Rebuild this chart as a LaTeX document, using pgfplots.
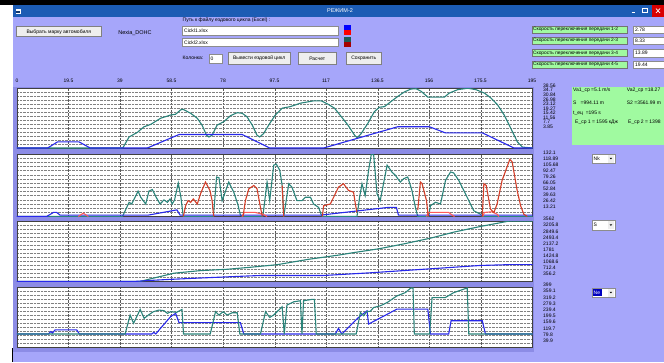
\documentclass[border=0pt]{standalone}
\usepackage{fontspec}
\setmainfont{Liberation Sans}
\usepackage{pgfplots}
\pgfplotsset{compat=1.18}

\definecolor{winbg}{RGB}{166,166,250}
\definecolor{gutter}{RGB}{140,140,230}
\definecolor{titleblue}{RGB}{28,92,180}
\definecolor{cteal}{RGB}{42,132,122}
\definecolor{cblue}{RGB}{40,40,235}
\definecolor{cred}{RGB}{212,62,40}
\definecolor{clred}{RGB}{255,90,90}
\definecolor{lgreen}{RGB}{160,250,160}
\definecolor{btnc}{RGB}{238,238,238}

\newcommand\fs{\fontsize{5}{5.5}\selectfont}
\newcommand\fl{\fontsize{5.5}{6.2}\selectfont}

\pgfplotsset{
  panel/.style={
    scale only axis, width=515.5pt, anchor=north west,
    xmin=0, xmax=195, ymin=0,
    xtick={0,19.5,39,58.5,78,97.5,117,136.5,156,175.5,195},
    xticklabels={}, yticklabels={},
    major tick length=0pt,
    xmajorgrids, ymajorgrids,
    x grid style={black!65, densely dotted, line width=0.5pt},
    y grid style={black!50, densely dotted, line width=0.45pt},
    axis line style={black!75, line width=0.7pt},
    axis background/.style={fill=white},
    every axis plot/.append style={line width=1.1pt, mark=none},
  }
}

\tikzset{
  btn/.style={draw=black!50, fill=btnc, line width=0.5pt},
  tbox/.style={draw=black!45, fill=white, line width=0.5pt},
  glab/.style={draw=black!55, fill=lgreen, line width=0.4pt},
}

\begin{document}
\begin{tikzpicture}[x=1pt,y=-1pt]
\useasboundingbox (0,0) rectangle (664,362);
% window background and frame
\fill[winbg] (0,0) rectangle (664,362);
\fill[white] (0,0) rectangle (13,362);
\fill[black] (0,0) rectangle (664,4.5);
\fill[titleblue] (13,4.5) rectangle (664,17);
\draw[black,line width=0.8pt] (12.6,348) -- (12.6,362);
\fill[white] (15.5,9) rectangle (20.5,14);
\fill[titleblue!60!black] (16.3,10.6) rectangle (19.7,13.3);
\node[white,font=\fl] at (340,11) {РЕЖИМ-2};
\draw[white,line width=0.8pt] (631.5,12.5) -- (635,12.5);
\draw[white,line width=0.6pt] (642.5,8.5) rectangle (647,12.5);
\fill[red!85!black] (652,4.5) rectangle (664,17);
\draw[white,line width=0.7pt] (656,8.5) -- (660,13) (656,13) -- (660,8.5);

% top controls
\draw[btn] (16,26.7) rectangle (101.7,36.7);
\node[font=\fs] at (58.8,31.7) {Выбрать марку автомобиля};
\node[font=\fl] at (135,33) {Nexia\_DOHC};
\node[font=\fs,anchor=west,inner sep=0pt] at (182.5,20) {Путь к файлу ездового цикла (Excel) :};
\draw[tbox] (182.5,26.7) rectangle (338,35);
\node[font=\fs,anchor=west,inner sep=0pt] at (184,30.8) {Cickl1.xlsx};
\draw[tbox] (182.5,38.3) rectangle (338,46.7);
\node[font=\fs,anchor=west,inner sep=0pt] at (184,42.5) {Cickl2.xlsx};
\fill[blue] (343.7,25) rectangle (351.3,30);
\fill[red] (343.7,30) rectangle (351.3,35);
\fill[cteal!70!black] (343.7,36.7) rectangle (351.3,41.7);
\fill[red!65!black] (343.7,41.7) rectangle (351.3,46.7);
\node[font=\fs,anchor=west,inner sep=0pt] at (182.5,58.3) {Колонка:};
\draw[tbox] (209,54) rectangle (222,63.3);
\node[font=\fs,anchor=west,inner sep=0pt] at (210.5,58.6) {0};
\draw[btn] (228.3,52.7) rectangle (290,64);
\node[font=\fs] at (259.2,58.4) {Вывести ездовой цикл};
\draw[btn] (298.3,52.7) rectangle (336,64);
\node[font=\fs] at (317.2,58.4) {Расчет};
\draw[btn] (346,52.7) rectangle (381.3,64);
\node[font=\fs] at (363.7,58.4) {Сохранить};
\foreach \yy/\lab/\val in {26/1-2/2.78, 37/2-3/8.33, 49.3/3-4/13.89, 61/4-5/19.44}{
  \draw[glab] (532,\yy) rectangle (627,\yy+7.3);
  \node[font=\fontsize{4.8}{5.2}\selectfont,anchor=west,inner sep=0pt] at (533,\yy+3.7) {Скорость переключения передачи \lab};
  \draw[tbox] (633.7,\yy) rectangle (666,\yy+7.5);
  \node[font=\fs,anchor=west,inner sep=0pt] at (635,\yy+3.8) {\val};
}

% chart gutter
\fill[gutter] (13.3,86.5) rectangle (533.5,351.5);

% time labels above the first chart
\foreach \t/\lab in {0/0,19.5/19.5,39/39,58.5/58.5,78/78,97.5/97.5,117/117,136.5/136.5,156/156,175.5/175.5,195/195}{
  \node[font=\fs,inner sep=0pt] at ({17+2.641*\t},81) {\lab};
}

% ---------- speed ----------
\begin{axis}[panel, at={(17pt,-88pt)}, height=60pt, ymax=38.56, ytick distance=2.5707]
\addplot[cteal] coordinates {
(0,0)(40,0)(42.4,7.1)(45.5,10)(48,13.6)(50.6,15.2)(54.3,19.1)(58.1,21.2)(60,21.7)
(61.9,24.5)(62.8,24.9)(65.7,22.3)(68.2,19.1)(70,14.7)(71.7,8.2)(72.6,7.1)(73.8,8.2)
(75.7,14.7)(78.2,16.9)(80.8,20.8)(83.3,22.7)(85.2,22.3)(87,20.1)(89,14.7)(90.8,8.2)
(91.8,7.1)(93.3,9.3)(95.2,14.7)(97.7,21.2)(100.3,25.6)(103.4,26.6)(107.2,28.8)
(112.2,30.3)(115.1,30.3)(117.6,28.2)(120.1,25.6)(122.7,20.1)(125.2,14.7)(127.7,8.2)
(128.7,6.5)(130.2,9.3)(132.7,15.8)(135.2,23.4)(137.1,26.2)(139,26.6)(141.5,29.9)
(144,33.1)(146.5,36)(149,37.9)(151,38.1)(152.9,36.4)(155.4,32.7)(161.7,32.7)
(163.5,35.3)(166.7,37.5)(170.5,38.4)(173.6,37.5)(176.8,35.3)(179.3,32.1)(181.8,27.7)
(184.3,21.2)(186.8,12.6)(189.3,3.9)(191.2,0.6)(195,0)};
\addplot[cblue] coordinates {
(0,0)(11.6,0)(15.3,3.9)(23.5,3.9)(27.7,0)(49.3,0)(61.3,8.67)(85.2,8.67)(95.6,0)
(116,0)(144,13.65)(156,13.65)(162,9.75)(176,9.75)(188,0)(195,0)};
\end{axis}

% ---------- traction power ----------
\begin{axis}[panel, at={(17pt,-154pt)}, height=62.5pt, ymax=132.1, ytick distance=8.8067]
\addplot[cteal] coordinates {
(0,0)(39.9,0)(42.4,30)(43.4,26.4)(45.8,53.6)(46.8,40.7)(48.7,26.4)(49.9,53.6)
(51.2,57.1)(52.5,42.1)(54.1,26.4)(55.6,35)(56.9,30)(57.9,37.1)(58.7,26.4)(59.6,35)
(61,70.7)(62,40.7)(62.9,0)(74.3,0)(75.5,83.5)(76.4,82)(77.6,33.6)(80.1,72.8)
(82,51.4)(83.5,26.4)(84.5,3)(85.5,0)(93,0)(94.6,72.8)(95.6,33.6)(97.1,108.5)
(98.1,110.7)(99.4,97.8)(100.3,65.7)(100.9,0)(102.8,69.3)(104,62)(105.9,33.6)
(107.8,33.6)(109.1,40.7)(111,40.7)(112.2,26.4)(114.1,19.3)(115,5)(115.5,0)
(128.6,0)(129.6,40.7)(130.5,69.3)(131.7,44.3)(133,97.8)(134,131)(134.9,131)
(136.2,47.8)(137.4,33.6)(140,108.5)(141.8,94.2)(143.1,87.1)(145,72.8)(146.3,80)
(147.8,83.5)(149.4,55)(150.7,19.3)(151.6,0)(155.7,0)(156.4,22.8)(158.3,30)
(160.2,26.4)(162.1,76.4)(164,94.2)(165.2,92)(167.1,76.4)(169,55)(170.9,33.6)
(172.8,12.1)(175.3,5)(176,0)(195,0)};
\addplot[cblue] coordinates {
(0,0)(11.2,0)(13.8,8.6)(15,8.6)(16.3,3)(49.7,3)(60.5,14)(61.7,3)(115,3)
(140.5,19.3)(143.5,19.3)(144.3,3)(195,3)};
\addplot[clred] coordinates {(23.2,0)(25.1,7.1)(27,0)};
\addplot[clred] coordinates {(85.1,0)(86,8.6)(90,8.6)(93,5)(94.6,0)};
\addplot[clred] coordinates {(154.9,0)(155.6,8.6)(163.3,8.6)(164.6,3)(165.5,0)};
\addplot[clred] coordinates {(176.2,0)(176.8,8.6)(179.7,10)(181.6,5)(182.3,0)};
\addplot[cred] coordinates {(62.9,0)(63.8,22.8)(64.7,33.6)(65.7,30)(66.7,37.1)
(68.2,26.4)(69.4,47.8)(71.3,72.8)(73,55)(73.8,33.6)(74.3,5)(74.5,0)};
\addplot[cred] coordinates {(85.5,0)(86.4,33.6)(87.7,58.5)(89.6,65.7)(90.8,58.5)
(92.1,19.3)(92.8,0)};
\addplot[cred] coordinates {(100.3,65.7)(100.9,0)};
\addplot[cred] coordinates {(115.5,0)(116,22.8)(118.5,26.4)(120.4,47.8)(121.6,62)
(123.5,69.3)(125.4,55)(127.3,51.4)(128,26.4)(128.6,8.6)};
\addplot[cred] coordinates {(151.6,13.6)(152.6,72.8)(153.2,70)(154.9,33.6)
(155.4,8.6)(155.7,0)};
\addplot[cred] coordinates {(176,0)(176.6,69.3)(177.5,65.7)(179.1,15.7)(180.4,8.6)
(181.6,26.4)(183.5,76.4)(185.4,105)(186.4,120.6)(187.3,115.7)(189.2,55)(190.5,22.8)
(191.7,5)(193,0)};
\end{axis}

% ---------- distance ----------
\begin{axis}[panel, at={(17pt,-221pt)}, height=60.5pt, ymax=3562, ytick distance=237.47]
\addplot[cteal] coordinates {
(0,0)(46.5,0)(50.5,157)(59.4,490)(69.3,640)(79.5,720)(88.4,840)(98.4,990)(110,1300)
(122.3,1570)(127.3,1700)(137,1929)(146.6,2224)(156.6,2558)(165.4,2913)(175.5,3247)
(185.6,3542)(187.4,3562)(195,3562)};
\addplot[cblue] coordinates {
(0,0)(44,0)(50,60)(56.9,118)(70,210)(85.8,315)(92.1,354)(116,354)(133.6,512)
(156.4,748)(175.3,945)(185.4,990)(188,994)(195,994)};
\end{axis}

% ---------- engine speed ----------
\begin{axis}[panel, at={(17pt,-287.5pt)}, height=60pt, ymax=399, ytick distance=26.6]
\addplot[cblue] coordinates {
(0,90)(11.9,90)(12.8,106)(13.4,96)(14.4,117)(22.6,117)(23.6,90)(51,90)(51.8,101)
(52.5,90)(54.3,128)(58.1,205)(60,227)(61.3,165)(84.5,165)(85.8,90)(120.4,90)
(121.6,127)(122.9,90)(129.2,200)(132.4,244)(133,156)(143.7,255)(155.4,255)
(156.4,90)(163.3,90)(164.2,178)(176,178)(177.2,90)(195,90)};
\addplot[cteal] coordinates {
(0,90)(40.9,90)(42.8,216)(44.1,161)(46.6,253)(48.1,194)(49.7,216)(51.6,238)
(53.7,249)(55.6,245)(56.9,227)(58.1,238)(60.4,234)(62.4,253)(63,90)(73.1,90)
(75.1,238)(76.4,216)(78,238)(79.5,216)(81.4,231)(83.3,231)(84.3,90)(92.1,90)
(94,238)(95.6,200)(97.1,216)(99,249)(100.3,271)(101.1,90)(102.1,282)(104.7,304)
(107.2,311)(107.8,90)(108.4,311)(111.6,320)(112.5,320)(113.2,90)(128.3,90)
(129.9,233)(131.1,211)(132.4,240)(133.6,240)(134.9,266)(137.4,277)(140,299)
(143.7,343)(146.9,365)(149,396)(149.8,396)(150.3,90)(156.1,90)(157,332)(162,332)
(165.2,365)(167.7,380)(170.3,396)(170.9,90)(195,90)};
\end{axis}

% value columns beside the charts
\foreach \v [count=\i from 0] in {38.56,34.7,30.84,26.98,23.12,19.27,15.42,11.56,7.7,3.85}
  \node[font=\fs,anchor=west,inner sep=0pt] at (543,85.7+4.55*\i) {\v};
\foreach \v [count=\i from 0] in {132.1,118.89,105.68,92.47,79.26,66.05,52.84,39.63,26.42,13.21}
  \node[font=\fs,anchor=west,inner sep=0pt] at (543,153+6*\i) {\v};
\foreach \v [count=\i from 0] in {3562,3205.8,2849.6,2493.4,2137.2,1781,1424.8,1068.6,712.4,356.2}
  \node[font=\fs,anchor=west,inner sep=0pt] at (543,219+6.14*\i) {\v};
\foreach \v [count=\i from 0] in {399,359.1,319.2,279.3,239.4,199.5,159.6,119.7,79.8,39.9}
  \node[font=\fs,anchor=west,inner sep=0pt] at (543,285+6.19*\i) {\v};

% results box
\fill[lgreen] (571.5,86.5) rectangle (664,145);
\node[font=\fs,anchor=west,inner sep=0pt] at (573,90.7) {Va1\_ср =5.1 m/s};
\node[font=\fs,anchor=west,inner sep=0pt] at (626.7,90.7) {Va2\_ср =18.27};
\node[font=\fs,anchor=west,inner sep=0pt] at (573,102.7) {S \ \ =994.11 m};
\node[font=\fs,anchor=west,inner sep=0pt] at (626.7,102.7) {S2 =3561.99 m};
\node[font=\fs,anchor=west,inner sep=0pt] at (573,113) {t\_ец \ =195 s};
\node[font=\fs,anchor=west,inner sep=0pt] at (575,122.7) {E\_ср 1 = 1595 кДж};
\node[font=\fs,anchor=west,inner sep=0pt] at (628,122.7) {E\_ср 2 = 1398};

% chart selectors
\foreach \yy/\lab in {154/Nk, 220.5/S}{
  \draw[tbox] (592,\yy) rectangle (615,\yy+9.3);
  \fill[btnc] (607.5,\yy+0.8) rectangle (614.2,\yy+8.5);
  \fill[black] (609.6,\yy+3.8) -- (612.2,\yy+3.8) -- (610.9,\yy+5.4) -- cycle;
  \node[font=\fs,anchor=west,inner sep=0pt] at (593.5,\yy+4.7) {\lab};
}
\draw[tbox] (592,288) rectangle (615,297.3);
\fill[btnc] (607.5,288.8) rectangle (614.2,296.5);
\fill[black] (609.6,291.8) -- (612.2,291.8) -- (610.9,293.4) -- cycle;
\fill[blue!75!black] (593,289.3) rectangle (602,296);
\node[font=\fs,anchor=west,inner sep=0pt,white] at (593.5,292.7) {Ne};
\end{tikzpicture}
\end{document}
